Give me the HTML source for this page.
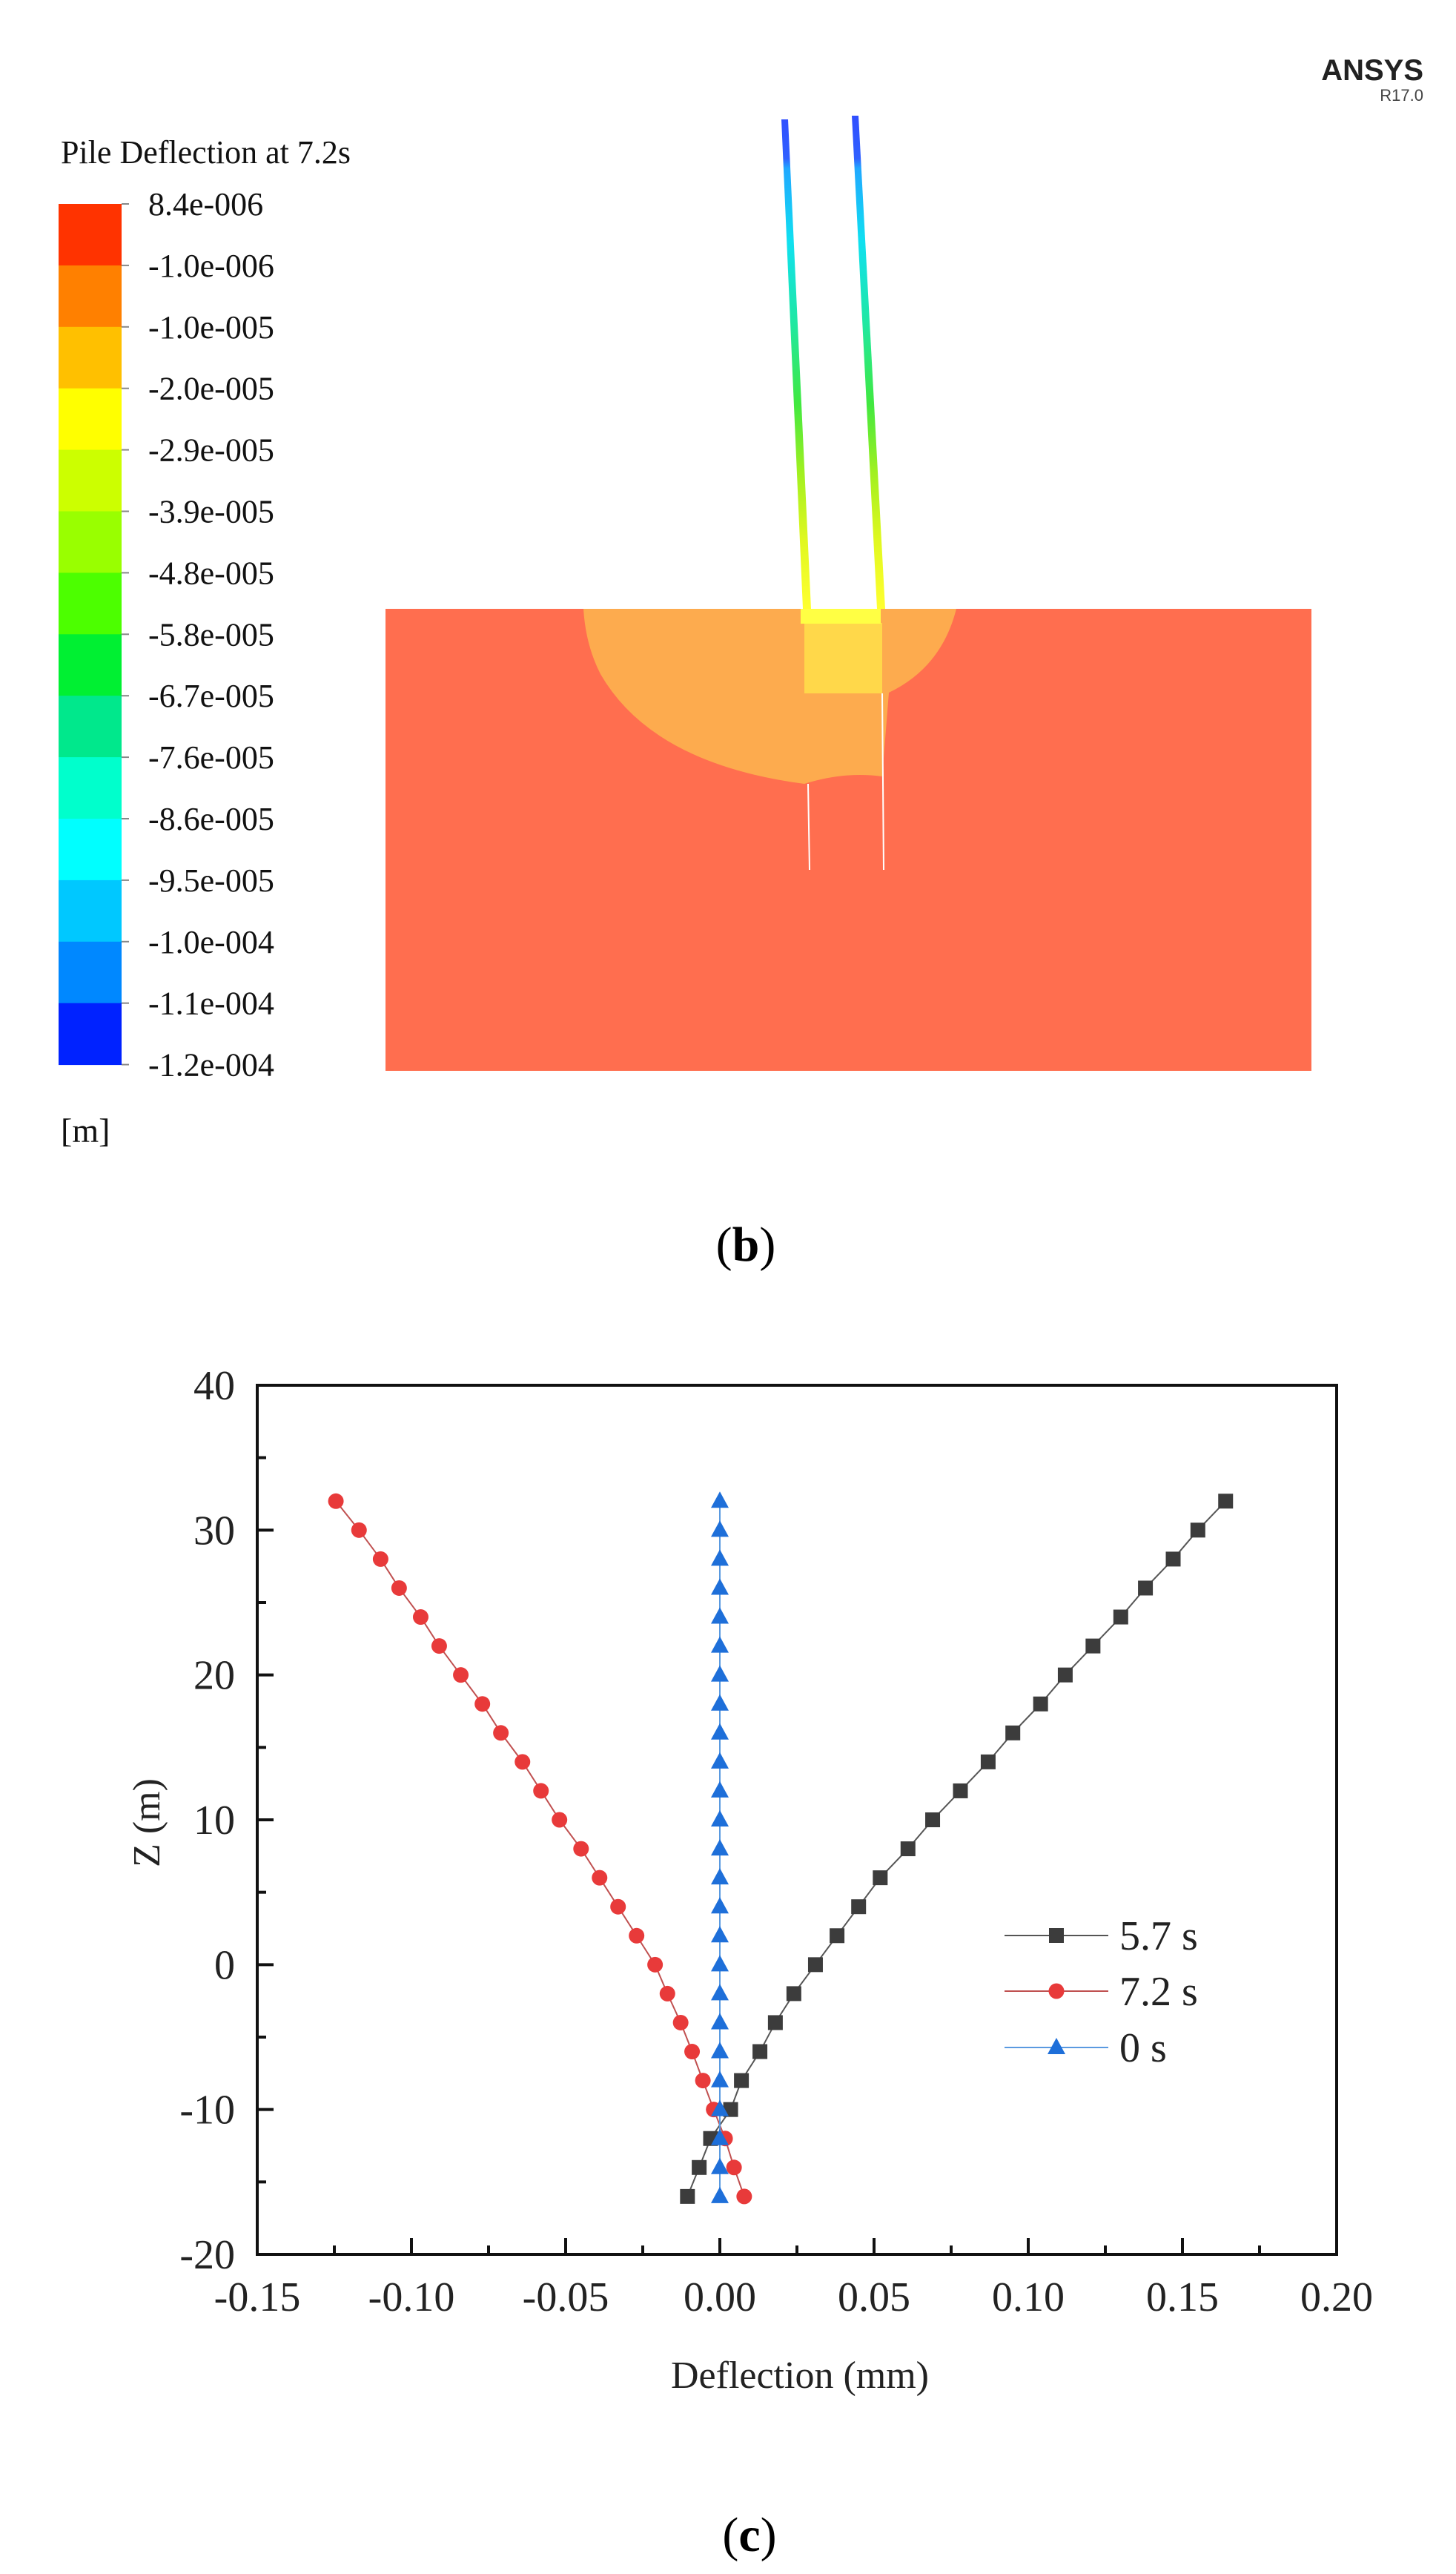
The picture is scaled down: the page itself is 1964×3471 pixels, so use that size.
<!DOCTYPE html>
<html><head><meta charset="utf-8">
<style>
html,body{margin:0;padding:0;background:#fff;}
body{width:1964px;height:3471px;position:relative;overflow:hidden;font-family:"Liberation Serif",serif;}
svg{position:absolute;left:0;top:0;}
</style></head>
<body>
<svg id="fig" width="1964" height="3471" viewBox="0 0 1964 3471" xmlns="http://www.w3.org/2000/svg">
  <!-- Panel b: ANSYS contour -->
  <g>
    <text x="1920" y="108" text-anchor="end" font-family="Liberation Sans, sans-serif" font-weight="bold" font-size="40" fill="#222">ANSYS</text>
    <text x="1920" y="136" text-anchor="end" font-family="Liberation Sans, sans-serif" font-size="22" fill="#444">R17.0</text>
    <text x="82" y="220" font-size="44" fill="#111">Pile Deflection at 7.2s</text>
    <g id="cbar"></g>
    <text x="82" y="1540" font-size="46" fill="#111">[m]</text>

    <rect x="520" y="821" width="1249" height="623" fill="#ff6e4f"/>
    <path d="M787 821 L1290 821 Q1270 900 1199 934 L1190 1047 Q1140 1040 1085 1057 Q880 1030 810 909 Q790 870 787 821 Z" fill="#fdab4e"/>
    <rect x="1085" y="840" width="105" height="95" fill="#ffd84a"/>
    <rect x="1080" y="821" width="108" height="20" fill="#ffff44"/>
    <line x1="1090" y1="1057" x2="1092" y2="1173" stroke="#fff" stroke-width="2"/>
    <line x1="1190" y1="935" x2="1192" y2="1173" stroke="#fff" stroke-width="2"/>
    <defs>
      <linearGradient id="pileg" x1="0" y1="161" x2="0" y2="821" gradientUnits="userSpaceOnUse">
        <stop offset="0" stop-color="#3050ff"/>
        <stop offset="0.08" stop-color="#3060ff"/>
        <stop offset="0.1" stop-color="#20a8ff"/>
        <stop offset="0.25" stop-color="#10e0f0"/>
        <stop offset="0.42" stop-color="#20e8a0"/>
        <stop offset="0.58" stop-color="#40e840"/>
        <stop offset="0.72" stop-color="#a0f020"/>
        <stop offset="0.86" stop-color="#e0f820"/>
        <stop offset="1" stop-color="#ffff30"/>
      </linearGradient>
    </defs>
    <polygon points="1054,161 1063,161 1094,821 1083,821" fill="url(#pileg)"/>
    <polygon points="1149,156 1158,156 1194,821 1183,821" fill="url(#pileg)"/>
    <text x="1006" y="1700" text-anchor="middle" font-size="66" fill="#000">(<tspan font-weight="bold">b</tspan>)</text>
  </g>

  <!-- Panel c: chart -->
  <g id="chart">
    <g id="marks"></g>
    <rect x="347" y="1868" width="1456" height="1172" fill="none" stroke="#111" stroke-width="4"/>
    <g id="ticks"></g>
    <text x="1079" y="3220" text-anchor="middle" font-size="52" fill="#222">Deflection (mm)</text>
    <text transform="translate(215,2458) rotate(-90)" text-anchor="middle" font-size="52" fill="#222">Z (m)</text>
    <g id="legend"></g>
    <text x="1011" y="3440" text-anchor="middle" font-size="66" fill="#000">(<tspan font-weight="bold">c</tspan>)</text>
  </g>
</svg>
<script>
const NS = "http://www.w3.org/2000/svg";
// Colorbar data
const cbarLabels = ["8.4e-006","-1.0e-006","-1.0e-005","-2.0e-005","-2.9e-005","-3.9e-005","-4.8e-005","-5.8e-005","-6.7e-005","-7.6e-005","-8.6e-005","-9.5e-005","-1.0e-004","-1.1e-004","-1.2e-004"];
const cbarColors = ["#ff3300","#ff8000","#ffc000","#ffff00","#ccff00","#99ff00","#4cff00","#00f032","#00e88c","#00ffcc","#00ffff","#00c8ff","#0088ff","#0022ff"];
// Chart data
const zLevels = [32,30,28,26,24,22,20,18,16,14,12,10,8,6,4,2,0,-2,-4,-6,-8,-10,-12,-14,-16];
const series57 = [0.164,0.155,0.147,0.138,0.130,0.121,0.112,0.104,0.095,0.087,0.078,0.069,0.061,0.052,0.045,0.038,0.031,0.024,0.018,0.013,0.007,0.0035,-0.003,-0.0067,-0.0105];
const series72 = [-0.1245,-0.117,-0.110,-0.104,-0.097,-0.091,-0.084,-0.077,-0.071,-0.064,-0.058,-0.052,-0.045,-0.039,-0.033,-0.027,-0.021,-0.017,-0.0127,-0.009,-0.0055,-0.002,0.0017,0.0046,0.0079];
const series0 = [0,0,0,0,0,0,0,0,0,0,0,0,0,0,0,0,0,0,0,0,0,0,0,0,0];
const xTicks = [-0.15,-0.10,-0.05,0.00,0.05,0.10,0.15,0.20];
const xTickLabels = ["-0.15","-0.10","-0.05","0.00","0.05","0.10","0.15","0.20"];
const yTicks = [-20,-10,0,10,20,30,40];
const yTickLabels = ["-20","-10","0","10","20","30","40"];
const legendLabels = ["5.7 s","7.2 s","0 s"];

function mk(tag, attrs, parent){const e=document.createElementNS(NS,tag);for(const k in attrs)e.setAttribute(k,attrs[k]);parent.appendChild(e);return e;}

// colorbar
const cb=document.getElementById('cbar');
const cbTop=275, cbH=82.9;
cbarColors.forEach((c,i)=>{
  const r=mk('rect',{x:79,y:cbTop+i*cbH,width:85,height:cbH+0.5,fill:c},cb);
  
  
});
cbarLabels.forEach((t,i)=>{
  const y=cbTop+i*cbH;
  const tk=mk('line',{x1:164,y1:y,x2:174,y2:y,stroke:'#888','stroke-width':2},cb);
  
  
  const tx=mk('text',{x:200,y:y+15,'font-size':44,fill:'#111'},cb);
  tx.textContent=t;
  
  
});

// axes
const X0=347,X1=1803,Y0=1868,Y1=3040;
const xMin=-0.15,xMax=0.20,yMin=-20,yMax=40;
const sx=v=>X0+(v-xMin)/(xMax-xMin)*(X1-X0);
const sy=v=>Y1-(v-yMin)/(yMax-yMin)*(Y1-Y0);

const tg=document.getElementById('ticks');
xTicks.forEach((v,i)=>{
  const x=sx(v);
  const l=mk('line',{x1:x,y1:Y1,x2:x,y2:Y1-22,stroke:'#111','stroke-width':4},tg);
  
  
  if(i<xTicks.length-1){
    const xm=sx(v+0.025);
    const m=mk('line',{x1:xm,y1:Y1,x2:xm,y2:Y1-12,stroke:'#111','stroke-width':4},tg);
    
    
  }
  const t=mk('text',{x:x,y:Y1+76,'text-anchor':'middle','font-size':56,fill:'#222'},tg);
  t.textContent=xTickLabels[i];
  
  
});
yTicks.forEach((v,i)=>{
  const y=sy(v);
  const l=mk('line',{x1:X0,y1:y,x2:X0+22,y2:y,stroke:'#111','stroke-width':4},tg);
  
  
  if(i<yTicks.length-1){
    const ym=sy(v+5);
    const m=mk('line',{x1:X0,y1:ym,x2:X0+12,y2:ym,stroke:'#111','stroke-width':4},tg);
    
    
  }
  const t=mk('text',{x:317,y:y+19,'text-anchor':'end','font-size':56,fill:'#222'},tg);
  t.textContent=yTickLabels[i];
  
  
});

function marker(type,x,y,color,parent){
  let e;
  if(type==='square') e=mk('rect',{x:x-10,y:y-10,width:20,height:20,fill:color},parent);
  else if(type==='circle') e=mk('circle',{cx:x,cy:y,r:10.5,fill:color},parent);
  else e=mk('polygon',{points:`${x},${y-13} ${x+12},${y+9} ${x-12},${y+9}`,fill:color},parent);
  return e;
}
const mg=document.getElementById('marks');
const seriesDefs=[
  {vals:series57,type:'square',mc:'#3c3c3c',lc:'#555',name:'series-5-7s'},
  {vals:series72,type:'circle',mc:'#e83a3a',lc:'#c05050',name:'series-7-2s'},
  {vals:series0,type:'triangle',mc:'#1e6fd9',lc:'#5a9ae0',name:'series-0s'}
];
seriesDefs.forEach(s=>{
  const g=mk('g',{},mg);
  
  
  const pts=s.vals.map((v,i)=>sx(v)+','+sy(zLevels[i])).join(' ');
  const pl=mk('polyline',{points:pts,fill:'none',stroke:s.lc,'stroke-width':2},g);
  
  
  s.vals.forEach((v,i)=>{
    const m=marker(s.type,sx(v),sy(zLevels[i]),s.mc,g);
    
    
  });
});

// legend
const lg=document.getElementById('legend');
const legY=[2610,2685,2761];
seriesDefs.forEach((s,i)=>{
  const y=legY[i];
  const ln=mk('line',{x1:1355,y1:y,x2:1495,y2:y,stroke:s.lc,'stroke-width':2},lg);
  
  
  const m=marker(s.type,1425,y,s.mc,lg);
  
  
  const t=mk('text',{x:1510,y:y+19,'font-size':56,fill:'#222'},lg);
  t.textContent=legendLabels[i];
  
  
});
</script>
</body></html>
